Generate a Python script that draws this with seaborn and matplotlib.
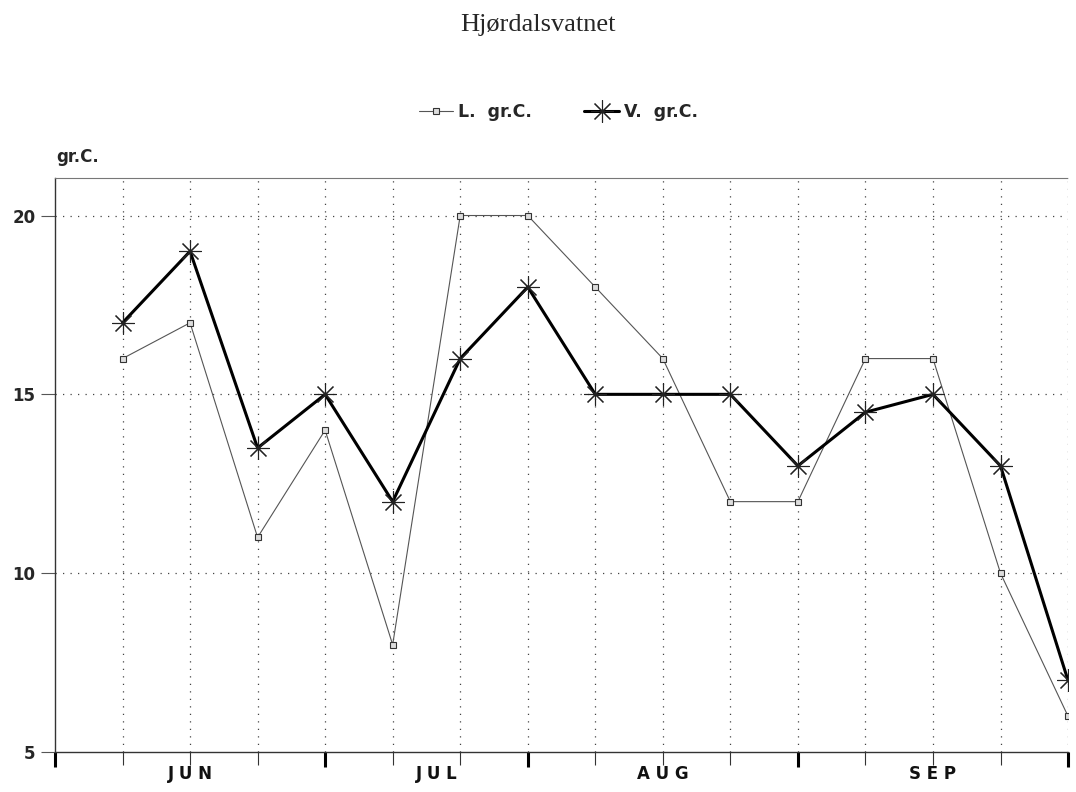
import numpy as np
import pandas as pd
import matplotlib
matplotlib.use("Agg")
import matplotlib.pyplot as plt
import seaborn as sns
from matplotlib.ticker import FixedLocator

# data
obs = list(range(15))
luft = [16, 17, 11, 14, 8, 20, 20, 18, 16, 12, 12, 16, 16, 10, 6]
vann = [17, 19, 13.5, 15, 12, 16, 18, 15, 15, 15, 13, 14.5, 15, 13, 7]
months = ['J U N', 'J U L', 'A U G', 'S E P']
month_pos = [1, 4.65, 8, 12]
month_edges = [-1, 3, 6, 10, 14]
y_ticks = [5, 10, 15, 20]

df = pd.DataFrame({'obs': obs, 'L. gr.C.': luft, 'V. gr.C.': vann})

sns.set_style('white')
plt.rcParams['font.family'] = ['DejaVu Sans']

fig = plt.figure(figsize=(10.76, 7.92), dpi=100)
ax = fig.add_axes([0.0511, 0.0505, 0.9415, 0.7248])

sns.lineplot(data=df, x='obs', y='L. gr.C.', ax=ax, color='#555555', lw=0.8,
             marker='s', markersize=4, markerfacecolor='#dddddd',
             markeredgecolor='#333333', markeredgewidth=0.8, label='L.  gr.C.')
sns.lineplot(data=df, x='obs', y='V. gr.C.', ax=ax, color='black', lw=2.2,
             marker=(8, 2, 0), markersize=16, markeredgecolor='#222222',
             markeredgewidth=0.8, label='V.  gr.C.')

ax.set_xlim(-1, 14)
ax.set_ylim(5, 21.05)

# grid
for x in obs:
    ax.axvline(x, color='#444444', lw=0.9, ls=(0, (1, 5)), zorder=0)
for y in [10, 15, 20]:
    ax.axhline(y, color='#444444', lw=0.9, ls=(0, (1, 5)), zorder=0)

ax.xaxis.set_major_locator(FixedLocator(month_edges))
ax.xaxis.set_minor_locator(FixedLocator(obs))
ax.set_xticklabels([])
ax.tick_params(axis='x', which='both', bottom=True)
ax.tick_params(axis='x', which='major', direction='out', length=11, width=2.2, color='black')
ax.tick_params(axis='x', which='minor', direction='out', length=9, width=0.8, color='#333333')
for p, m in zip(month_pos, months):
    ax.text(p, -0.022, m, transform=ax.get_xaxis_transform(), ha='center', va='top',
            fontsize=12, fontweight='bold', color='#111111')

ax.set_yticks(y_ticks)
ax.set_yticklabels([str(v) for v in y_ticks], fontsize=12, fontweight='bold')
ax.tick_params(axis='y', left=True, direction='out', length=10, width=0.8, pad=4, color='#555555')

ax.set_xlabel('')
ax.set_ylabel('')
for s in ['left', 'bottom']:
    ax.spines[s].set_color('#333333')
    ax.spines[s].set_linewidth(1.0)
ax.spines['top'].set_color('#777777')
ax.spines['top'].set_linewidth(0.8)
ax.spines['top'].set_linestyle((0, (3, 1)))
ax.spines['right'].set_visible(False)

fig.text(0.052, 0.79, 'gr.C.', fontsize=12, fontweight='bold', ha='left', va='bottom')
fig.text(0.5, 0.968, 'Hjørdalsvatnet', fontsize=19, family='Liberation Serif', ha='center', va='center')

leg = ax.legend(loc='center', bbox_to_anchor=(0.497, 1.115), ncol=2, frameon=False,
                fontsize=12.5, handlelength=2.0, columnspacing=3.0, handletextpad=0.3)
for t in leg.get_texts():
    t.set_fontweight('bold')

fig.savefig('out.png', dpi=100)
